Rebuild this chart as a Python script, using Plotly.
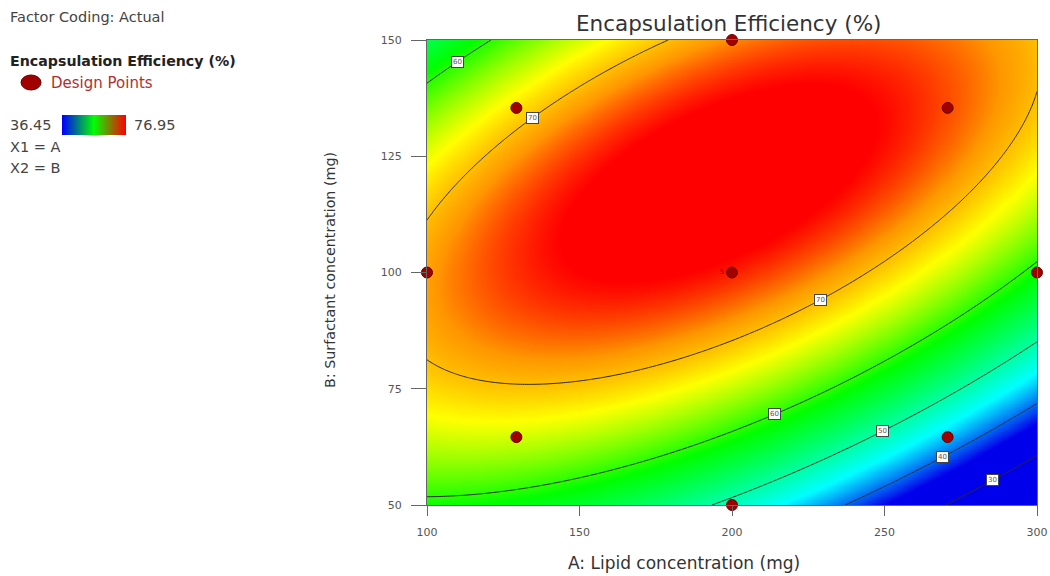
import numpy as np
import plotly.graph_objects as go

# Fitted quadratic model in coded units: a = (A-200)/100, b = (B-100)/50
# EE = b0 + bA*a + bB*b + bAB*a*b + bAA*a^2 + bBB*b^2
model_terms = ["b0", "bA", "bB", "bAB", "bAA", "bBB"]
model_coef = [74.635, -6.178, 11.643, 13.785, -9.607, -14.268]

# Design points (central composite design, actual units)
design_A = [100.0, 129.3, 129.3, 200.0, 200.0, 200.0, 270.7, 270.7, 300.0]
design_B = [100.0, 64.6, 135.4, 50.0, 100.0, 150.0, 64.6, 135.4, 100.0]
design_reps = ["", "", "", "", "5", "", "", "", ""]

# Response range shown by the colour key
ee_min, ee_max = 36.45, 76.95

# Contour levels and where their labels sit (A, approximate B)
contour_levels = [30, 40, 50, 60, 70]
label_level = [60, 70, 70, 60, 50, 40, 30]
label_A = [110.0, 134.5, 229.0, 214.0, 249.5, 269.0, 285.5]
label_B_hint = [146.0, 134.0, 95.0, 70.0, 66.0, 61.0, 56.0]

x_ticks = [100, 150, 200, 250, 300]
y_ticks = [50, 75, 100, 125, 150]

W, H = 1050, 576
FONT = "DejaVu Sans"


def ee(a, b):
    c = model_coef
    return c[0] + c[1] * a + c[2] * b + c[3] * a * b + c[4] * a * a + c[5] * b * b


def solve_B(level, A, hint):
    a = (A - 200) / 100
    c = model_coef
    roots = np.roots([c[5], c[2] + c[3] * a, c[0] + c[1] * a + c[4] * a * a - level])
    Bs = [100 + 50 * r.real for r in roots if abs(r.imag) < 1e-9]
    return min(Bs, key=lambda v: abs(v - hint))


A_grid = np.linspace(100, 300, 301)
B_grid = np.linspace(50, 150, 301)
AA, BB = np.meshgrid(A_grid, B_grid)
Z = ee((AA - 200) / 100, (BB - 100) / 50)

surface_scale = [
    [0.0, "rgb(0,0,235)"],
    [0.22, "rgb(0,255,255)"],
    [0.55, "rgb(0,255,0)"],
    [0.76, "rgb(255,255,0)"],
    [0.87, "rgb(255,150,0)"],
    [0.96, "rgb(255,0,0)"],
    [1.0, "rgb(255,0,0)"],
]
key_scale = [[0.0, "rgb(0,0,255)"], [0.5, "rgb(0,255,0)"], [1.0, "rgb(255,0,0)"]]

px_l, px_r, py_t, py_b = 427, 1037, 40, 505
dom_x = [px_l / W, px_r / W]
dom_y = [1 - py_b / H, 1 - py_t / H]

fig = go.Figure()
fig.add_trace(go.Heatmap(x=A_grid, y=B_grid, z=Z, zmin=ee_min, zmax=ee_max, zsmooth="best",
                         colorscale=surface_scale, showscale=False, hoverinfo="skip"))
fig.add_trace(go.Contour(x=A_grid, y=B_grid, z=Z, showscale=False, hoverinfo="skip",
                         contours=dict(start=min(contour_levels), end=max(contour_levels),
                                       size=10, coloring="none"),
                         line=dict(color="#2a2a2a", width=1)))
fig.add_trace(go.Scatter(x=design_A, y=design_B, mode="markers+text", cliponaxis=False,
                         text=design_reps, textposition="middle left",
                         textfont=dict(size=7, color="#7a0000", family=FONT),
                         marker=dict(size=11, color="#a10000", line=dict(color="#6a0000", width=1)),
                         showlegend=False))

# colour key strip
key_vals = np.linspace(ee_min, ee_max, 64)
fig.add_trace(go.Heatmap(z=[key_vals], x=key_vals, y=[0], colorscale=key_scale, zmin=ee_min, zmax=ee_max,
                         showscale=False, xaxis="x2", yaxis="y2", hoverinfo="skip"))

axis_common = dict(showgrid=False, zeroline=False, linecolor="#666", linewidth=1, mirror=True,
                   ticks="outside", tickcolor="#666", tickfont=dict(size=11, color="#555", family=FONT))
fig.update_layout(
    width=W, height=H, margin=dict(l=0, r=0, t=0, b=0, autoexpand=False),
    plot_bgcolor="white", paper_bgcolor="white", showlegend=False,
    xaxis=dict(domain=dom_x, range=[100, 300], tickvals=x_ticks, ticklen=10, ticklabelstandoff=7,
               **axis_common),
    yaxis=dict(domain=dom_y, range=[50, 150], tickvals=y_ticks, ticklen=15, ticklabelstandoff=7,
               **axis_common),
    xaxis2=dict(domain=[62 / W, 126 / W], anchor="y2", visible=False, range=[ee_min, ee_max]),
    yaxis2=dict(domain=[1 - 135 / H, 1 - 115 / H], anchor="x2", visible=False, range=[-0.5, 0.5]),
)

ann = []


def text_at(x, y, s, size=14.5, color="#444", xanchor="left", bold=False, angle=0):
    ann.append(dict(x=x / W, y=1 - y / H, xref="paper", yref="paper", text=f"<b>{s}</b>" if bold else s,
                    showarrow=False, xanchor=xanchor, yanchor="middle", textangle=angle,
                    font=dict(size=size, color=color, family=FONT)))


text_at(728, 24, "Encapsulation Efficiency (%)", size=21.5, color="#333", xanchor="center")
text_at(684, 563, "A: Lipid concentration (mg)", size=17, color="#333", xanchor="center")
text_at(330, 270, "B: Surfactant concentration (mg)", size=14.3, color="#333", xanchor="center", angle=-90)
text_at(8, 17, "Factor Coding: Actual", color="#444")
text_at(8, 61, "Encapsulation Efficiency (%)", size=14.2, color="#222", bold=True)
text_at(49, 83, "Design Points", size=15, color="#b03030")
text_at(8, 125, f"{ee_min:.2f}", color="#444")
text_at(132, 125, f"{ee_max:.2f}", color="#444")
text_at(8, 147, "X1 = A", color="#444")
text_at(8, 168, "X2 = B", color="#444")

# legend marker
fig.add_shape(type="circle", xref="paper", yref="paper",
              x0=21 / W, x1=41 / W, y0=1 - 90 / H, y1=1 - 75 / H,
              fillcolor="#a10000", line=dict(color="#6a0000", width=1))

# contour labels
for lev, A, hint in zip(label_level, label_A, label_B_hint):
    B = solve_B(lev, A, hint)
    ann.append(dict(x=A, y=B, xref="x", yref="y", text=str(lev), showarrow=False,
                    font=dict(size=7, color="#555", family=FONT), bgcolor="white",
                    bordercolor="#444", borderwidth=1, borderpad=1))

fig.update_layout(annotations=ann)
fig.write_html("out.html")
